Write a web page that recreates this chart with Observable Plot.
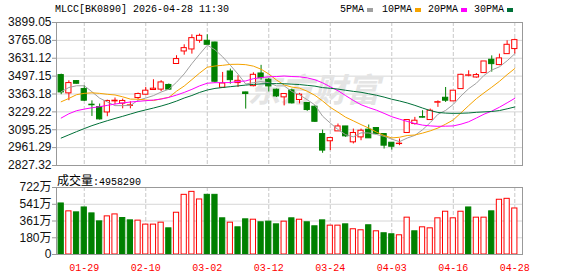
<!DOCTYPE html>
<html><head><meta charset="utf-8">
<script src="https://cdn.jsdelivr.net/npm/d3@7"></script>
<script src="https://cdn.jsdelivr.net/npm/@observablehq/plot@0.6"></script>
<style>
body{margin:0;background:#fff;}
#wrap{position:relative;width:578px;height:276px;overflow:hidden;background:#fff;}
.mono{position:absolute;font-family:"Liberation Mono",monospace;font-size:10px;color:#000;white-space:nowrap;line-height:12px;}
.sw{position:absolute;width:6px;height:4px;}
#price,#vol{position:absolute;left:0;}
#price{top:0;} #vol{top:170px;}
svg g[aria-label^="y-axis"] line, svg g[aria-label="y-axis tick"] path{stroke:#999;}
#vol g[aria-label^="x-axis"] text{fill:#ff0000;font-family:"Liberation Mono",monospace;font-size:10px;}
#vollab{position:absolute;left:57px;top:171px;white-space:nowrap;color:#000;}
</style></head><body>
<div id="wrap">
  <div id="price"></div>
  <div id="vol"></div>
  <div class="mono" style="left:55px;top:4px">MLCC[BK0890] 2026-04-28 11:30</div>
  <div id="legend"></div>
  <div id="vollab"><span style="font-family:'Noto Sans CJK SC';font-size:12px;">成交量</span><span style="font-family:'Liberation Mono',monospace;font-size:10px;">:4958290</span></div>
</div>
<script>
const dates = ["01-26","01-27","01-28","01-29","01-30","02-02","02-03","02-04","02-05","02-06",
"02-09","02-10","02-11","02-12","02-13","02-24","02-25","02-26","02-27","03-02",
"03-03","03-04","03-05","03-06","03-09","03-10","03-11","03-12","03-13","03-16",
"03-17","03-18","03-19","03-20","03-23","03-24","03-25","03-26","03-27","03-30",
"03-31","04-01","04-02","04-03","04-07","04-08","04-09","04-10","04-13","04-14",
"04-15","04-16","04-17","04-20","04-21","04-22","04-23","04-24","04-27","04-28"];
const opens = [3505,3368,3460,3400,3283,3265,3225,3308,3291,3274,3333,3358,3393,3396,3431,3588,3682,3697,3762,3762,
3749,3410,3532,3445,3375,3422,3517,3470,3395,3338,3390,3318,3296,3268,3063,3009,3083,3120,3001,3038,
3096,3108,3063,2998,2988,3071,3138,3190,3168,3298,3335,3308,3400,3500,3487,3520,3620,3580,3662,3700];
const highs = [3512,3462,3464,3425,3312,3288,3317,3333,3325,3305,3370,3413,3470,3463,3438,3650,3732,3807,3812,3807,
3752,3525,3550,3500,3377,3522,3578,3480,3400,3363,3400,3368,3298,3275,3093,3033,3138,3120,3100,3100,
3131,3108,3063,2998,3026,3168,3188,3238,3250,3312,3412,3388,3512,3537,3517,3607,3649,3662,3762,3775];
const lows = [3358,3313,3438,3307,3195,3168,3193,3283,3252,3252,3320,3355,3392,3381,3390,3588,3654,3662,3744,3732,
3445,3405,3437,3412,3250,3417,3467,3378,3337,3274,3288,3289,3233,3150,2919,2939,3083,3038,2989,3013,
3031,3063,2951,2943,2976,3071,3130,3183,3168,3263,3300,3308,3400,3492,3482,3520,3527,3575,3662,3662];
const closes = [3375,3445,3440,3313,3279,3173,3311,3313,3311,3278,3363,3388,3403,3450,3396,3625,3707,3782,3799,3732,
3455,3442,3467,3462,3363,3507,3482,3420,3345,3363,3293,3358,3243,3155,2939,3033,3120,3046,3071,3088,
3031,3063,2976,2968,2991,3168,3163,3186,3238,3302,3313,3388,3507,3503,3505,3607,3587,3630,3732,3767];
const ma5 = [3380,3412,3425,3425,3380,3332,3304,3276,3276,3277,3316,3333,3351,3378,3399,3451,3514,3591,3661,3729,
3695,3642,3579,3512,3438,3448,3456,3448,3424,3424,3382,3357,3320,3281,3197,3145,3097,3058,3042,3072,
3071,3060,3046,3025,3006,3033,3053,3095,3149,3211,3240,3285,3349,3403,3444,3503,3543,3567,3612,3665];
const ma10 = [3305,3330,3358,3368,3372,3368,3361,3356,3342,3325,3324,3318,3314,3327,3338,3384,3423,3471,3520,3564,
3573,3578,3585,3586,3583,3572,3549,3513,3468,3431,3415,3407,3384,3353,3311,3263,3227,3189,3162,3134,
3108,3078,3052,3034,3039,3052,3056,3070,3087,3108,3137,3169,3222,3276,3328,3372,3414,3458,3508,3554];
const ma20 = [3183,3215,3238,3250,3260,3268,3278,3288,3296,3303,3308,3313,3318,3325,3338,3355,3375,3398,3424,3444,
3448,3448,3449,3457,3461,3478,3486,3492,3494,3498,3494,3492,3484,3470,3447,3417,3388,3351,3315,3283,
3261,3242,3218,3193,3175,3158,3142,3130,3124,3121,3122,3124,3137,3155,3183,3212,3235,3264,3297,3331];
const ma30 = [3033,3057,3081,3104,3126,3145,3163,3180,3196,3213,3230,3244,3258,3273,3290,3310,3333,3352,3375,3393,
3405,3412,3418,3424,3430,3435,3439,3441,3441,3440,3437,3434,3428,3422,3411,3406,3400,3391,3383,3376,
3365,3354,3340,3324,3311,3296,3278,3258,3239,3225,3220,3218,3219,3221,3226,3229,3232,3239,3252,3266];
const volumes = [550,465,454,507,443,357,411,432,393,368,365,322,322,343,282,450,643,675,593,643,
643,390,343,293,379,375,347,354,325,354,390,375,347,304,368,311,311,325,272,261,
315,250,229,218,207,397,250,293,282,390,461,390,461,507,397,397,465,590,600,496];
const priceTicks = [3899.05,3765.08,3631.12,3497.15,3363.18,3229.22,3095.25,2961.29,2827.32];
const volTicks = [722,541,361,180,0];
const dateLabels = ["01-29","02-10","03-02","03-12","03-24","04-03","04-16","04-28"];
const maNames = ["5PMA","10PMA","20PMA","30PMA"];
const maColors = ["#a0a0a0","#f5a300","#ff00ff","#007038"];
const watermark = "东方财富";

const RED = "#ff0000", GREEN = "#008000";
const rows = dates.map((d, i) => ({
  i, date: d, open: opens[i], high: highs[i], low: lows[i], close: closes[i], vol: volumes[i],
  ma5: ma5[i], ma10: ma10[i], ma20: ma20[i], ma30: ma30[i],
  up: closes[i] >= opens[i],
  volUp: i === 0 ? closes[i] >= opens[i] : closes[i] >= closes[i - 1]
}));
const tickIdx = dateLabels.map(d => dates.indexOf(d));
const xDomain = [-0.61, 60];
const hw = 0.34;
const maKeys = ["ma5","ma10","ma20","ma30"];

const price = Plot.plot({
  width: 578, height: 170,
  marginLeft: 56, marginRight: 56, marginTop: 22, marginBottom: 5,
  x: {type: "linear", domain: xDomain, axis: null},
  y: {domain: [2827.32, 3899.05], ticks: priceTicks, tickFormat: d => d.toFixed(2), tickSize: 4, tickPadding: 1, label: null},
  color: {type: "identity"},
  style: {fontFamily: "'Liberation Sans', Arial, sans-serif", fontSize: "12px", color: "#111", background: "white", overflow: "visible"},
  marks: [
    Plot.ruleY(priceTicks, {stroke: "#d6d6d6"}),
    Plot.ruleX(tickIdx, {stroke: "#c8c8c8", strokeDasharray: "4,2"}),
    Plot.text([watermark], {text: d => d, frameAnchor: "middle", dx: 24, dy: -3, fontSize: 33, fontWeight: "bold", fontStyle: "italic", fill: "#e4e4e4", fontFamily: "'Noto Sans CJK SC'"}),
    Plot.ruleX(rows, {x: "i", y1: "low", y2: "high", stroke: d => d.up ? RED : GREEN}),
    Plot.rect(rows, {x1: d => d.i - hw, x2: d => d.i + hw, y1: "open", y2: "close",
      fill: d => d.up ? "white" : GREEN, stroke: d => d.up ? RED : GREEN}),
    ...maKeys.map((k, j) => Plot.line(rows, {x: "i", y: k, stroke: maColors[j], strokeWidth: 1, clip: true})),
    Plot.frame({stroke: "#999"})
  ]
});
document.getElementById("price").appendChild(price);

const vol = Plot.plot({
  width: 578, height: 106,
  marginLeft: 56, marginRight: 56, marginTop: 17, marginBottom: 22,
  x: {type: "linear", domain: xDomain, ticks: tickIdx, tickFormat: i => dates[i], tickSize: 0, tickPadding: 9, label: null},
  y: {domain: [0, 722], ticks: volTicks, tickFormat: d => d === 0 ? "0" : d + "万", tickSize: 4, tickPadding: 1, label: null},
  color: {type: "identity"},
  style: {fontFamily: "'Liberation Sans', 'Noto Sans CJK SC', sans-serif", fontSize: "12px", color: "#111", background: "white", overflow: "visible"},
  marks: [
    Plot.ruleY(volTicks, {stroke: "#d6d6d6"}),
    Plot.ruleX(tickIdx, {stroke: "#c8c8c8", strokeDasharray: "4,2"}),
    Plot.rect(rows, {x1: d => d.i - hw, x2: d => d.i + hw, y1: 0, y2: "vol",
      fill: d => d.volUp ? "white" : GREEN, stroke: d => d.volUp ? RED : GREEN}),
    Plot.frame({stroke: "#999"})
  ]
});
document.getElementById("vol").appendChild(vol);

// legend
const legend = document.getElementById("legend");
const legX = [340, 382, 428, 474];
maNames.forEach((n, j) => {
  const t = document.createElement("div");
  t.className = "mono";
  t.style.left = legX[j] + "px"; t.style.top = "4px";
  t.textContent = n;
  legend.appendChild(t);
  const s = document.createElement("div");
  s.className = "sw";
  s.style.left = (legX[j] + n.length * 6 + 3) + "px"; s.style.top = "8px";
  s.style.background = maColors[j];
  legend.appendChild(s);
});
</script>
</body></html>
